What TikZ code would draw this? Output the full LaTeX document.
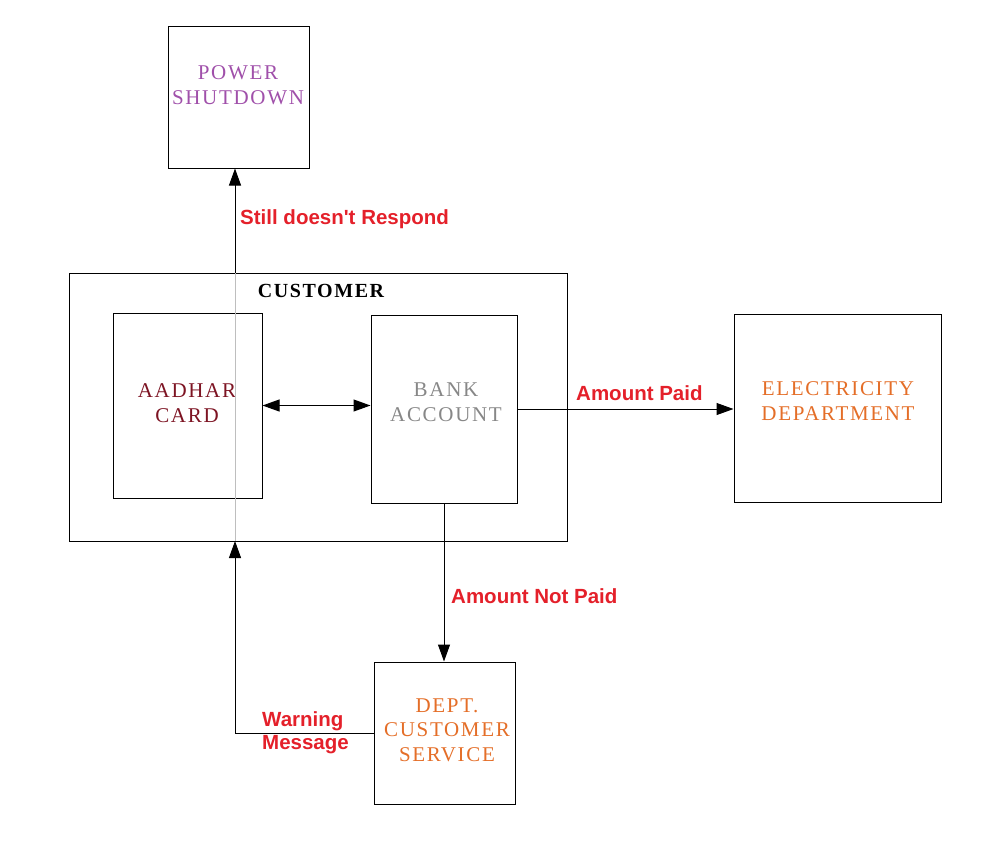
\documentclass[tikz,border=0pt]{standalone}
\usepackage{fontspec}
\setmainfont{Liberation Serif}
\newfontfamily\labelfont{Liberation Sans}
\usetikzlibrary{arrows.meta,positioning}
\definecolor{lblred}{RGB}{228,32,42}
\definecolor{powpurple}{RGB}{160,80,170}
\definecolor{aadred}{RGB}{125,20,35}
\definecolor{bankgray}{RGB}{135,135,135}
\definecolor{elecorange}{RGB}{228,110,40}
\newfontfamily\boxfont[LetterSpace=8]{Liberation Serif}
\tikzset{
  box/.style={draw, line width=1pt, rectangle, inner sep=0pt, anchor=center},
  boxtext/.style={font=\boxfont\fontsize{21}{24.5}\selectfont, align=center, inner sep=0pt},
  lbl/.style={font=\labelfont\bfseries\fontsize{20.5}{23}\selectfont, text=lblred, inner sep=0pt, align=left},
  arr/.style={line width=1pt, -{Triangle[length=17pt,width=12pt]}},
  darr/.style={line width=1pt, {Triangle[length=17pt,width=12pt]}-{Triangle[length=17pt,width=12pt]}},
  link/.style={line width=1pt}
}
\begin{document}
\begin{tikzpicture}[x=1pt,y=-1pt]
\useasboundingbox (0,0) rectangle (1003,847);
% boxes
\node[box, minimum width=141pt, minimum height=142pt] (power) at (238.5,97) {};
\node[box, minimum width=498pt, minimum height=268pt] (cust) at (318,407) {};
\node[box, minimum width=149pt, minimum height=185pt] (aad) at (187.5,405.5) {};
\node[box, minimum width=146pt, minimum height=188pt] (bank) at (444,409) {};
\node[box, minimum width=207pt, minimum height=188pt] (elec) at (837.5,408) {};
\node[box, minimum width=141pt, minimum height=142pt] (dept) at (444.5,733) {};
% texts
\node[boxtext, text=powpurple] (powert) at (238,85) {POWER\\SHUTDOWN};
\node[boxtext, text=black, font=\boxfont\bfseries\fontsize{20}{24}\selectfont] (custt) at (321,291) {CUSTOMER};
\node[boxtext, text=aadred] (aadt) at (187,403) {AADHAR\\CARD};
\node[boxtext, text=bankgray] (bankt) at (446,402) {BANK\\ACCOUNT};
\node[boxtext, text=elecorange] (elect) at (838,401) {ELECTRICITY\\DEPARTMENT};
\node[boxtext, text=elecorange] (deptt) at (447,730) {DEPT.\\CUSTOMER\\SERVICE};
% connector points
\coordinate (cb) at (235,541);
\coordinate (ct) at (235,273);
% connectors
\draw[darr] (aad.east) -- (aad.east -| bank.west);
\draw[arr] (bank.east) -- (bank.east -| elec.west);
\draw[arr] (bank.south) -- (bank.south |- dept.north);
\draw[arr] (dept.west) -| (cb);
\draw[line width=1pt, color={rgb,255:red,190;green,190;blue,190}] (cb) -- (ct);
\draw[arr] (ct) -- (ct |- power.south);
% labels
\node[lbl, anchor=west] (l1) at (240,219) {Still doesn't Respond};
\node[lbl, anchor=west] (l2) at (576,393) {Amount Paid};
\node[lbl, anchor=west] (l3) at (451,596) {Amount Not Paid};
\node[lbl, anchor=west] (l4) at (262,733) {Warning\\Message};
\end{tikzpicture}
\end{document}
